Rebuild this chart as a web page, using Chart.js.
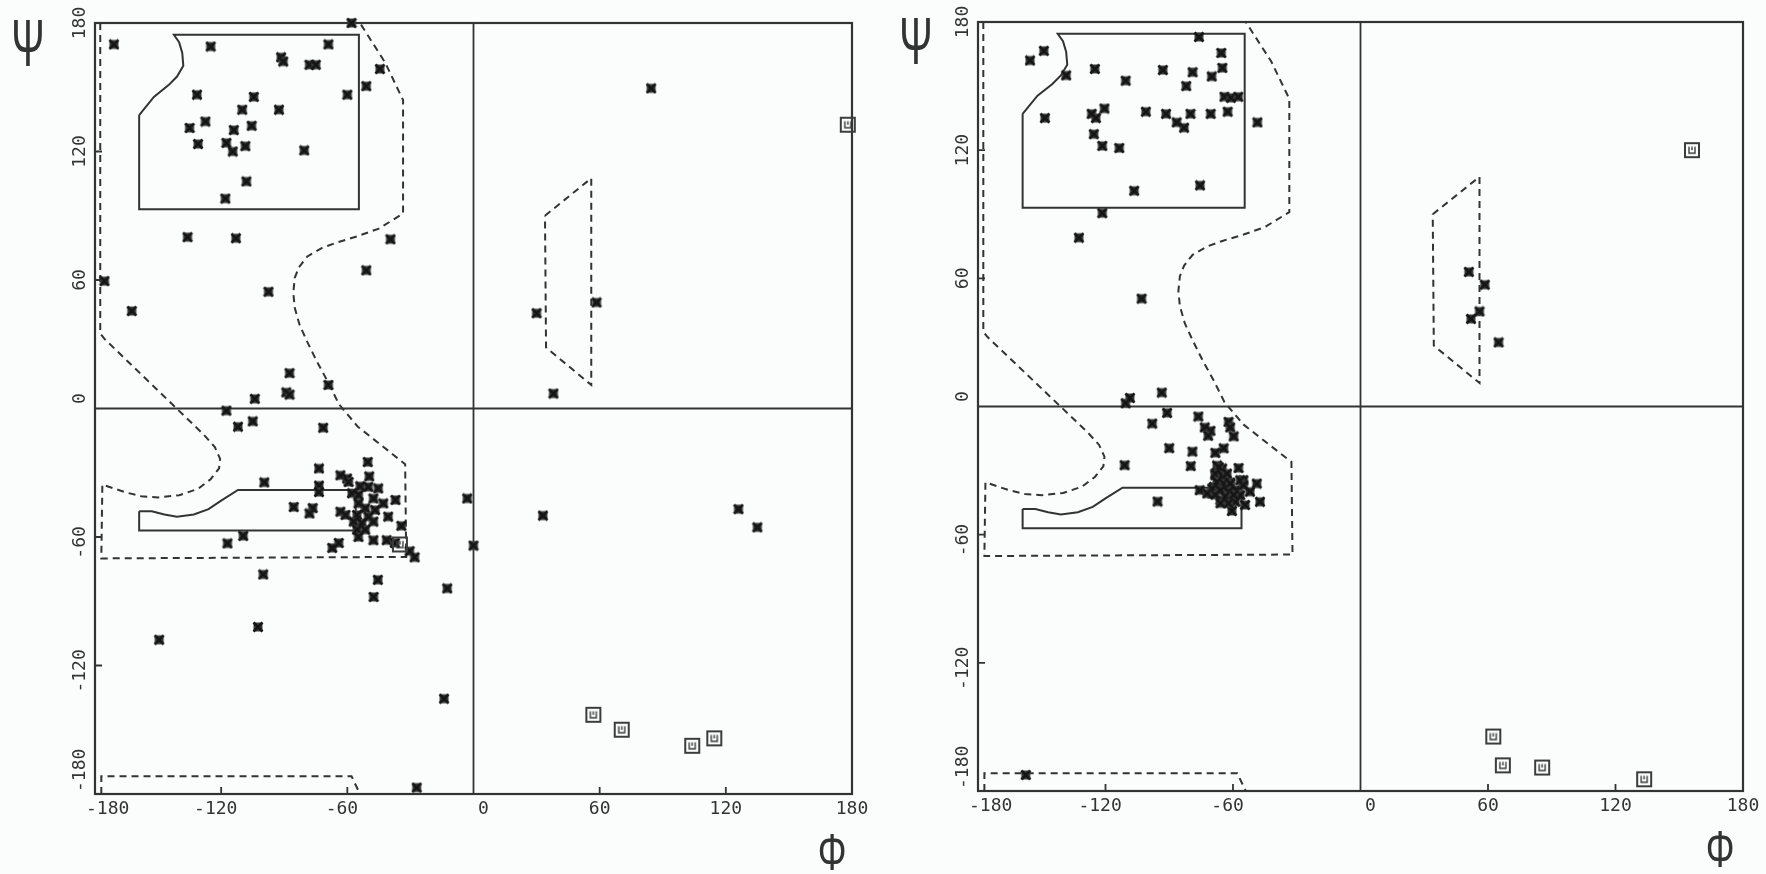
<!DOCTYPE html>
<html lang="en">
<head>
    <meta charset="UTF-8">
    <title>Ramachandran plots</title>
    <script src="https://cdn.jsdelivr.net/npm/chart.js"></script>
    <style>
        body {
            margin: 0;
            background: #fbfcfc;
            overflow: hidden;
        }
        #wrap {
            position: relative;
            width: 1766px;
            height: 874px;
        }
        #wrap canvas {
            position: absolute;
            top: 0;
        }
    </style>
</head>
<body>
<div id="wrap">
    <canvas id="leftPlot" width="900" height="874" style="left:0"></canvas>
    <canvas id="rightPlot" width="866" height="874" style="left:900px"></canvas>
</div>

<script>
    const phiTicks = [-180, -120, -60, 0, 60, 120, 180];
    const psiTicks = [-180, -120, -60, 0, 60, 120, 180];

    // allowed-region outlines (same on both plots)
    const betaCorePhi = [-159, -152, -145, -141, -138, -138.5, -140, -142.5, -54.5, -54.5, -159, -159];
    const betaCorePsi = [137, 145.5, 151, 155, 160, 166, 171, 174.5, 174.5, 93, 93, 137];
    const alphaCorePhi = [-159, -153, -147, -141, -133, -126, -120, -112, -56, -56, -159, -159];
    const alphaCorePsi = [-48, -48, -49.5, -50.5, -49.5, -47, -43, -38, -38, -57, -57, -48];
    const allowedPhi = [-177.5, -177.5, -175.5, -128.5, -123, -120.5, -121, -125, -131, -140, -150, -158, -166, -176.5, -177,
        -32, -32.5, -55, -64, -69, -74.5, -79, -82.7, -85, -85.7, -85, -83, -79, -72, -65, -55, -45, -33.5, -33.5, -42, -54];
    const allowedPsi = [180, 35, 32.5, -12, -18, -23.5, -28, -33, -37.5, -40.5, -41.5, -41, -39, -35.5, -70,
        -69.3, -26, -8.5, 2, 12, 22, 31, 39, 47, 54, 61, 66, 71, 75, 77.5, 80.5, 84, 91, 144, 161.5, 180];
    const bottomStripPhi = [-177, -177, -58, -54];
    const bottomStripPsi = [-180, -171.7, -171.7, -180];
    const leftHandPhi = [34, 56, 56, 34.5, 34];
    const leftHandPsi = [90, 107.5, 11, 28.5, 90];

    // left plot residues
    const leftPhi = [-58, -171, -125, -69, -91.5, -90.5, -78, -75, -44.5, -51, -131.5, -104.5, -60, -110, -92.5, -127.5,
        -135, -105.5, -114, -131, -117.5, -114.5, -108.5, -80.5, -108, -118, -136, -113, -39.5, -51, -175.5, -97.5,
        -162.5, -87.5, -69, -89, -87.5, -104, -117.5, -105, -112, -71.5,
        -73.5, -99.5, -73.5, -73.5, -85.5, -76.5, -78, -109.5, -117, -28, -100, -45.5, -47.5, -12.5, -102.5, -149.5,
        -14, -27, -3, 0,
        -50.3, -49.6, -63.3, -60.1, -59.4, -53.9, -50, -45.3, -57.8, -54.7, -47.6, -42.9, -37.1, -54.7, -51.5, -46.8,
        -63.3, -60.9, -55.4, -50, -40.6, -57, -53.1, -47.6, -55.4, -51.5, -34.3, -54.7, -47.6, -41.3, -37.4, -67.2,
        -64.1, -30.4,
        84.5, 30, 58.5, 38, 33, 126, 135];
    const leftPsi = [180, 170, 169, 170, 164, 162, 160.5, 160.5, 158.5, 150.5, 146.5, 145.5, 146.5, 139.5, 139.5, 134,
        131, 132, 130, 123.5, 124, 120, 122.5, 120.5, 106, 98, 80, 79.5, 79, 64.5, 59.5, 54.5,
        45.5, 16.5, 11, 7.5, 6.5, 4.5, -1, -6, -8.5, -9,
        -28, -34.5, -36, -39, -46, -46.5, -49, -59.5, -63, -69.5, -77.5, -80, -88, -84, -102, -108,
        -135.5, -177, -42, -64,
        -25, -31.7, -31.2, -32.7, -34.3, -36.3, -36.6, -37.3, -39.6, -40.4, -42, -44.3, -42.7, -44.3, -46.6, -47.4,
        -48.2, -49.7, -49.7, -50.5, -50.5, -52.8, -53.5, -52.8, -56.6, -56.6, -54.8, -60, -61.5, -61.5, -62.8, -65.1,
        -62.8, -66.6,
        149.5, 44.5, 49.5, 7, -50, -47, -55.5];
    const leftGlyPhi = [178, 57, 70.5, 104, 114.5, -35];
    const leftGlyPsi = [132.5, -143, -150, -157.5, -154, -63.5];

    // right plot residues
    const rightPhi = [-76, -149, -155.5, -65.5, -65, -125, -93, -79, -70, -138.5, -110.5, -82, -64, -61, -57.5, -120.5,
        -126.5, -124.5, -148.5, -101, -91.5, -80, -70.5, -62.5, -48.5, -86.5, -83, -125.5, -121.5, -113.5, -75.5,
        -106.5, -121.5, -132.5, -103, -93.5, -108.5, -110.5, -91, -98,
        -90, -111, -95.5, -157.5,
        -76.3, -62.1, -61.3, -59.7, -73.3, -70.6, -71.7, -79.1, -64.4, -68.3, -79.9, -67.5, -65.1, -57.4, -68.3, -63.6,
        -66.7, -61.3, -55.1, -69, -64.4, -58.9, -48.8, -75.7, -69.8, -62.1, -56.6, -52, -65.9, -58.9, -54.3, -47.3,
        -60.5,
        -66.7, -68.3, -65.1, -62.8, -67.5, -64.4, -61.3, -69.8, -65.9, -62.1, -68.3, -63.6, -59.7, -65.9, -62.1, -56.6,
        -55.1, -72.1,
        51, 58.5, 52, 56, 65];
    const rightPsi = [173, 166.5, 162, 165.5, 158.5, 158, 157.5, 156.5, 154.5, 155, 152.5, 150, 145, 144.5, 145, 139.5,
        137, 135, 135, 138, 137, 137, 137, 138, 133, 133, 130.5, 127.5, 122, 121, 103.5,
        101, 90.5, 79, 50.5, 6.5, 4, 1.5, -3, -8,
        -19.5, -27.5, -44.5, -172.5,
        -4.7, -7.2, -9.8, -14, -9.8, -11.4, -13.7, -21.1, -19.6, -21.7, -27.9, -27.6, -29, -28.8, -32.2, -33,
        -35.3, -35.6, -34.5, -37.6, -38.4, -39.2, -36.1, -39.2, -40.7, -41.5, -41.5, -39.9, -43.8, -44.6, -46.1, -44.6,
        -48.9,
        -28.4, -31.4, -32.2, -31.4, -35.3, -36.1, -36.1, -38.4, -39.2, -39.9, -41.3, -42.1, -41.3, -45.3, -45.3, -34.5,
        -36.9, -40.7,
        63, 57, 41, 44.5, 30];
    const rightGlyPhi = [156, 62.5, 67, 85.5, 133.5];
    const rightGlyPsi = [120, -154.5, -168, -169, -174.5];

    const ink = '#333';
    const labelFont = '18px "DejaVu Sans Mono"';

    const pts = (xs, ys) => xs.map((x, i) => ({x: x, y: ys[i]}));

    // plotter symbols
    function makeCross() {
        const c = document.createElement('canvas');
        c.width = 12; c.height = 12;
        const g = c.getContext('2d');
        g.fillStyle = '#3a3a3a';
        g.fillRect(1.5, 1.5, 9, 9);
        g.strokeStyle = '#151515';
        g.lineWidth = 2.6;
        g.beginPath();
        g.moveTo(1.5, 1.5); g.lineTo(10.5, 10.5);
        g.moveTo(10.5, 1.5); g.lineTo(1.5, 10.5);
        g.stroke();
        return c;
    }
    function makeGly() {
        const c = document.createElement('canvas');
        c.width = 18; c.height = 18;
        const g = c.getContext('2d');
        g.strokeStyle = '#3c3c3c';
        g.lineWidth = 2;
        g.strokeRect(2, 2, 14, 14);
        g.lineWidth = 1.4;
        g.beginPath();
        g.moveTo(6, 5.5); g.lineTo(6, 12); g.lineTo(12, 12); g.lineTo(12, 5.5);
        g.moveTo(9, 5.5); g.lineTo(9, 9);
        g.stroke();
        return c;
    }
    const crossImg = makeCross();
    const glyImg = makeGly();

    const outline = (xs, ys, dashed) => ({
        data: pts(xs, ys),
        showLine: true,
        pointRadius: 0,
        borderColor: ink,
        borderWidth: 2,
        borderDash: dashed ? [7, 5] : [],
        tension: 0,
        clip: false
    });

    const framePlugin = {
        id: 'frame',
        beforeDatasetsDraw(chart) {
            const {ctx, chartArea: a, scales: {x, y}} = chart;
            ctx.save();
            ctx.strokeStyle = ink;
            ctx.lineWidth = 2.2;
            ctx.strokeRect(a.left, a.top, a.width, a.height);
            ctx.lineWidth = 1.8;
            ctx.beginPath();
            const x0 = x.getPixelForValue(0), y0 = y.getPixelForValue(0);
            ctx.moveTo(x0, a.top); ctx.lineTo(x0, a.bottom);
            ctx.moveTo(a.left, y0); ctx.lineTo(a.right, y0);
            phiTicks.forEach(v => {
                const px = x.getPixelForValue(v);
                ctx.moveTo(px, a.bottom); ctx.lineTo(px, a.bottom - 7);
            });
            psiTicks.forEach(v => {
                const py = y.getPixelForValue(v);
                ctx.moveTo(a.left, py); ctx.lineTo(a.left + 7, py);
            });
            ctx.stroke();
            ctx.restore();
        },
        afterDraw(chart) {
            const {ctx, chartArea: a, scales: {x, y}} = chart;
            const opt = chart.options.plugins.frame;
            ctx.save();
            ctx.fillStyle = ink;
            ctx.font = labelFont;
            ctx.textAlign = 'left';
            ctx.textBaseline = 'middle';
            const minusW = ctx.measureText('-').width;

            // phi tick labels (digits centred on the tick, minus sign hanging left)
            phiTicks.forEach((v, i) => {
                const txt = String(v);
                const digitsW = ctx.measureText(String(Math.abs(v))).width;
                let start = x.getPixelForValue(v) - digitsW / 2 - (v < 0 ? minusW : 0);
                if (i === 0) start = a.left - 9;
                if (v === 0) start += 10;
                ctx.fillText(txt, start, a.bottom + 15);
            });

            // psi tick labels, rotated to read upwards
            psiTicks.forEach((v, i) => {
                const txt = String(v);
                const py = y.getPixelForValue(v);
                const digitsW = ctx.measureText(String(Math.abs(v))).width;
                let start = -digitsW / 2 - (v < 0 ? minusW : 0);
                if (i === 0) start = py - (a.bottom - 2);
                if (v === 0) start += 10;
                ctx.save();
                ctx.translate(a.left - 15, py);
                ctx.rotate(-Math.PI / 2);
                ctx.fillText(txt, start, 0);
                ctx.restore();
            });

            // axis symbols
            ctx.textAlign = 'center';
            ctx.font = '40px "Liberation Sans"';
            ctx.save();
            ctx.translate(opt.psiAt[0], opt.psiAt[1]);
            ctx.scale(1, 1.65);
            ctx.fillText('Ψ', 0, 0);
            ctx.restore();
            ctx.save();
            ctx.translate(opt.phiAt[0], opt.phiAt[1]);
            ctx.scale(0.9, 1.3);
            ctx.fillText('Φ', 0, 0);
            ctx.restore();
            ctx.restore();
        }
    };

    const makePlot = (canvasId, phi, psi, glyPhi, glyPsi, padding, psiAt, phiAt) => {
        return new Chart(document.getElementById(canvasId), {
            type: 'scatter',
            data: {
                datasets: [
                    {data: pts(glyPhi, glyPsi), pointStyle: glyImg, pointRadius: 6, clip: false},
                    {data: pts(phi, psi), pointStyle: crossImg, pointRadius: 5, clip: false},
                    outline(betaCorePhi, betaCorePsi, false),
                    outline(alphaCorePhi, alphaCorePsi, false),
                    outline(allowedPhi, allowedPsi, true),
                    outline(bottomStripPhi, bottomStripPsi, true),
                    outline(leftHandPhi, leftHandPsi, true)
                ]
            },
            options: {
                responsive: false,
                animation: false,
                events: [],
                layout: {padding: padding},
                plugins: {
                    legend: {display: false},
                    tooltip: {enabled: false},
                    frame: {psiAt: psiAt, phiAt: phiAt}
                },
                scales: {
                    x: {
                        type: 'linear', min: -180, max: 180,
                        grid: {display: false}, border: {display: false}, ticks: {display: false}
                    },
                    y: {
                        type: 'linear', min: -180, max: 180,
                        grid: {display: false}, border: {display: false}, ticks: {display: false}
                    }
                }
            },
            plugins: [framePlugin]
        });
    };

    makePlot('leftPlot', leftPhi, leftPsi, leftGlyPhi, leftGlyPsi,
        {left: 87, right: 48, top: 23, bottom: 72}, [28, 48], [832, 856]);
    makePlot('rightPlot', rightPhi, rightPsi, rightGlyPhi, rightGlyPsi,
        {left: 70, right: 23, top: 22, bottom: 75}, [16, 46], [820, 853]);
</script>
</body>
</html>
